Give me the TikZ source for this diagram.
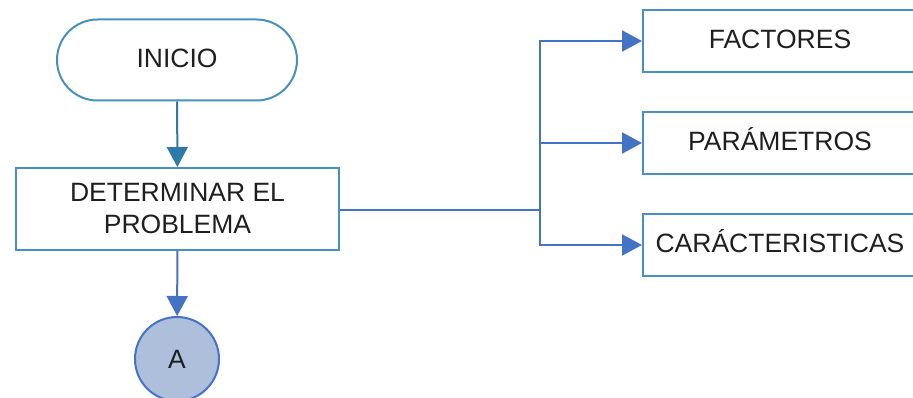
\documentclass[tikz,border=0pt]{standalone}
\usepackage{fontspec}
\setmainfont{Liberation Sans}
\usetikzlibrary{shapes.misc,arrows.meta}
\definecolor{boxc}{HTML}{4A90BE}
\definecolor{tealc}{HTML}{2E7BAA}
\definecolor{bluec}{HTML}{4472C4}
\definecolor{circf}{HTML}{ADBFDB}
\begin{document}
\begin{tikzpicture}[x=1pt,y=-1pt,
  every node/.style={font=\fontsize{26.5}{32}\selectfont, text=black!88},
  procbox/.style={draw=boxc, line width=2pt, rectangle, inner sep=0pt, align=center},
  sidebox/.style={procbox, minimum width=274pt, minimum height=62pt, text height=22pt, text depth=7pt},
  termbox/.style={draw=boxc, line width=2pt, rounded rectangle, minimum width=240pt, minimum height=81pt, inner sep=0pt, text height=20pt, text depth=4pt},
  conn/.style={draw=bluec, line width=2pt, -{Triangle[length=20pt,width=21pt]}},
  conntl/.style={draw=tealc, line width=2pt, -{Triangle[length=20pt,width=21pt]}},
  line/.style={draw=bluec, line width=2pt}]
\useasboundingbox (0,0) rectangle (913,398);
\clip (0,0) rectangle (913,398);
\node[termbox] (inicio) at (177,60) {INICIO};
\node[procbox, minimum width=323pt, minimum height=82pt] (det) at (177.5,209) {DETERMINAR EL\\PROBLEMA};
\node[circle, draw=bluec, fill=circf, line width=2pt, minimum size=84pt, inner sep=0pt] (a) at (177,359) {A};
\node[sidebox] (fac) at (780,41) {FACTORES};
\node[sidebox] (par) at (780,143) {PARÁMETROS};
\node[sidebox] (car) at (780,245) {CARÁCTERISTICAS};
\coordinate (j) at (540,210);
\draw[conntl] (inicio) -- (det);
\draw[conn] (det) -- (a);
\draw[line] (det.east |- j) -- (j);
\draw[conn] (j) |- (fac.west);
\draw[conn] (j) |- (par.west);
\draw[conn] (j) |- (car.west);
\end{tikzpicture}
\end{document}
